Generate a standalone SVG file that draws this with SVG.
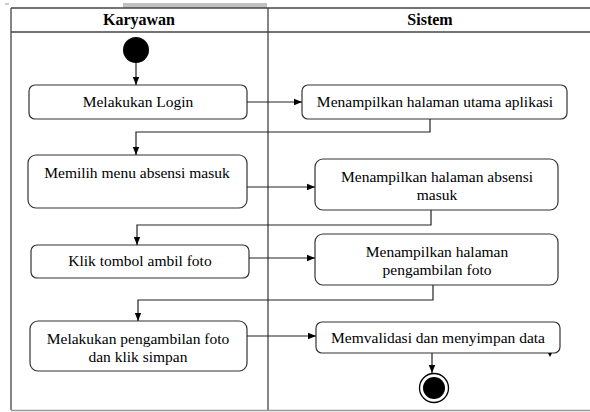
<svg xmlns="http://www.w3.org/2000/svg" width="590" height="412" viewBox="0 0 590 412">
<defs>
<marker id="ah" viewBox="0 0 10 10" refX="10" refY="5" markerWidth="8" markerHeight="8" markerUnits="userSpaceOnUse" orient="auto">
<path d="M0,1 L10,5 L0,9 Z" fill="#000"/>
</marker>
<style>
.lane{fill:none;stroke:#444;stroke-width:1.3}
.box{fill:#fff;stroke:#333;stroke-width:1.2}
.t{font-size:15.5px;fill:#000;text-anchor:middle}
.h{font-size:16px;font-weight:bold;fill:#000;text-anchor:middle}
.c{fill:none;stroke:#222;stroke-width:1.2}
</style>
</defs>
<rect width="590" height="412" fill="#fff"/>
<g font-family="'Liberation Serif', 'Times New Roman', 'DejaVu Serif', serif">
<g id="frame">
<rect x="123" y="3" width="144" height="5" fill="#c0c0c0"/>
<line x1="5" y1="4" x2="9" y2="4" stroke="#999" stroke-width="1"/>
<line class="lane" x1="11" y1="8" x2="590" y2="8"/>
<line class="lane" x1="11" y1="32" x2="590" y2="32"/>
<line class="lane" x1="11" y1="8" x2="11" y2="410"/>
<line class="lane" x1="268" y1="8" x2="268" y2="410"/>
<line x1="11" y1="410.5" x2="590" y2="410.5" stroke="#999" stroke-width="1.3"/>
<text class="h" x="139" y="25">Karyawan</text>
<text class="h" x="430" y="25">Sistem</text>
</g>
<g id="start"><circle cx="136" cy="50" r="13" fill="#000"/></g>
<g id="n1"><rect class="box" x="29" y="85" width="218" height="34" rx="6"/><text class="t" x="138" y="107">Melakukan Login</text></g>
<g id="n2"><rect class="box" x="302" y="85" width="265" height="34" rx="6"/><text class="t" x="435" y="107">Menampilkan halaman utama aplikasi</text></g>
<g id="n3"><rect class="box" x="28" y="155" width="219" height="53" rx="8"/><text class="t" x="137" y="178">Memilih menu absensi masuk</text></g>
<g id="n4"><rect class="box" x="315" y="159" width="243" height="51" rx="8"/><text class="t" x="437" y="182">Menampilkan halaman absensi</text><text class="t" x="437" y="200">masuk</text></g>
<g id="n5"><rect class="box" x="31" y="245" width="218" height="33" rx="6"/><text class="t" x="140" y="266">Klik tombol ambil foto</text></g>
<g id="n6"><rect class="box" x="315" y="234" width="243" height="51" rx="8"/><text class="t" x="437" y="257">Menampilkan halaman</text><text class="t" x="437" y="275">pengambilan foto</text></g>
<g id="n7"><rect class="box" x="30" y="321" width="217" height="50" rx="8"/><text class="t" x="138" y="344">Melakukan pengambilan foto</text><text class="t" x="138" y="362">dan klik simpan</text></g>
<g id="n8"><rect class="box" x="316" y="322" width="244" height="31" rx="6"/><text class="t" x="438" y="343">Memvalidasi dan menyimpan data</text><path d="M548,353 L552,353 L550,357 Z" fill="#000"/></g>
<g id="end"><circle cx="434" cy="388" r="14.5" fill="#fff" stroke="#000" stroke-width="1.3"/><circle cx="434" cy="388" r="11" fill="#000"/></g>
</g>
<g id="connectors">
<line class="c" x1="136" y1="63" x2="136" y2="85" marker-end="url(#ah)"/>
<line class="c" x1="247" y1="102" x2="302" y2="102" marker-end="url(#ah)"/>
<polyline class="c" points="430,119 430,132 136,132 136,155" marker-end="url(#ah)"/>
<line class="c" x1="247" y1="187" x2="315" y2="187" marker-end="url(#ah)"/>
<polyline class="c" points="431,210 431,225 137,225 137,245" marker-end="url(#ah)"/>
<line class="c" x1="249" y1="258" x2="315" y2="258" marker-end="url(#ah)"/>
<polyline class="c" points="433,285 433,300 138,300 138,321" marker-end="url(#ah)"/>
<line class="c" x1="247" y1="336" x2="316" y2="336" marker-end="url(#ah)"/>
<line class="c" x1="432" y1="353" x2="432" y2="373" marker-end="url(#ah)"/>
</g>
</svg>
